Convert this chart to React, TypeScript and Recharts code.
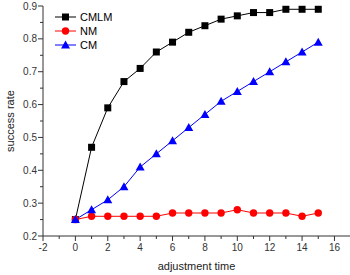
import { LineChart, Line, XAxis, YAxis } from "recharts";

// adjustment time 0..15
const steps = [0, 1, 2, 3, 4, 5, 6, 7, 8, 9, 10, 11, 12, 13, 14, 15];
const cmlm = [0.25, 0.47, 0.59, 0.67, 0.71, 0.76, 0.79, 0.82, 0.84, 0.86, 0.87, 0.88, 0.88, 0.89, 0.89, 0.89];
const nm = [0.25, 0.26, 0.26, 0.26, 0.26, 0.26, 0.27, 0.27, 0.27, 0.27, 0.28, 0.27, 0.27, 0.27, 0.26, 0.27];
const cm = [0.25, 0.28, 0.31, 0.35, 0.41, 0.45, 0.49, 0.53, 0.57, 0.61, 0.64, 0.67, 0.7, 0.73, 0.76, 0.79];

const xTicks = [-2, -1, 0, 1, 2, 3, 4, 5, 6, 7, 8, 9, 10, 11, 12, 13, 14, 15, 16];
const yTicks = [0.2, 0.25, 0.3, 0.35, 0.4, 0.45, 0.5, 0.55, 0.6, 0.65, 0.7, 0.75, 0.8, 0.85, 0.9];

const data = steps.map((t, i) => ({ t, cmlm: cmlm[i], nm: nm[i], cm: cm[i] }));

const FONT = "'Liberation Sans', Arial, sans-serif";
const AXIS = "#333";

const XTick = (props: any) => {
  const { x, y, payload } = props;
  const v = payload.value as number;
  const major = v % 2 === 0;
  return (
    <g>
      <line x1={x} x2={x} y1={y} y2={y + (major ? 5 : 3)} stroke={AXIS} />
      {major && (
        <text x={x} y={y + 15} textAnchor="middle" fontSize={10} fill="#333" fontFamily={FONT}>
          {v}
        </text>
      )}
    </g>
  );
};

const YTick = (props: any) => {
  const { x, y, payload } = props;
  const v = payload.value as number;
  const major = Math.abs(v * 10 - Math.round(v * 10)) < 1e-6;
  return (
    <g>
      <line x1={x} x2={x - (major ? 5 : 3)} y1={y} y2={y} stroke={AXIS} />
      {major && (
        <text x={x - 6} y={y + 3.5} textAnchor="end" fontSize={10} fill="#333" fontFamily={FONT}>
          {v.toFixed(1)}
        </text>
      )}
    </g>
  );
};

const YLabel = (props: any) => {
  const vb = props.viewBox || {};
  const cy = (vb.y ?? 0) + (vb.height ?? 0) / 2;
  return (
    <text x={14} y={cy} transform={`rotate(-90, 14, ${cy})`} textAnchor="middle" fontSize={11} fill="#222" fontFamily={FONT}>
      success rate
    </text>
  );
};

const Square = (props: any) => {
  const { cx, cy } = props;
  if (cx == null || cy == null) return null;
  return <rect x={cx - 3.5} y={cy - 3.5} width={7} height={7} fill="#000" />;
};

const Circle = (props: any) => {
  const { cx, cy } = props;
  if (cx == null || cy == null) return null;
  return <circle cx={cx} cy={cy} r={3.7} fill="#ff0000" />;
};

const Triangle = (props: any) => {
  const { cx, cy } = props;
  if (cx == null || cy == null) return null;
  return <polygon points={`${cx},${cy - 4.5} ${cx + 4.5},${cy + 3.5} ${cx - 4.5},${cy + 3.5}`} fill="#0000ff" />;
};

const legendItems = [
  { name: "CMLM", color: "#000", Marker: Square },
  { name: "NM", color: "#ff0000", Marker: Circle },
  { name: "CM", color: "#0000ff", Marker: Triangle },
];

export default function App() {
  return (
    <div style={{ position: "absolute", left: 0, top: 0, width: 350, height: 275, background: "#fff" }}>
      <LineChart width={350} height={275} data={data} margin={{ top: 6, right: 0, bottom: 0, left: 0 }}>
        <XAxis
          dataKey="t"
          type="number"
          domain={[-2, 16.96]}
          ticks={xTicks}
          interval={0}
          allowDataOverflow
          stroke={AXIS}
          tickLine={false}
          tickSize={0}
          tickMargin={0}
          tick={<XTick />}
          height={39}
          label={{ value: "adjustment time", position: "insideBottom", offset: 5, fontSize: 11, fill: "#222", fontFamily: FONT }}
        />
        <YAxis
          type="number"
          domain={[0.2, 0.9]}
          ticks={yTicks}
          interval={0}
          stroke={AXIS}
          tickLine={false}
          tickSize={0}
          tickMargin={0}
          tick={<YTick />}
          width={43}
          label={<YLabel />}
        />
        <Line dataKey="cmlm" stroke="#000" strokeWidth={1} dot={<Square />} isAnimationActive={false} />
        <Line dataKey="nm" stroke="#ff0000" strokeWidth={1} dot={<Circle />} isAnimationActive={false} />
        <Line dataKey="cm" stroke="#0000ff" strokeWidth={1} dot={<Triangle />} isAnimationActive={false} />
      </LineChart>
      <svg width={120} height={60} style={{ position: "absolute", left: 50, top: 8 }}>
        {legendItems.map(({ name, color, Marker }, i) => {
          const cy = 9 + i * 14;
          return (
            <g key={name}>
              <line x1={5} x2={26} y1={cy} y2={cy} stroke={color} />
              <Marker cx={15.5} cy={cy} />
              <text x={30} y={cy + 4} fontSize={11} fill="#000" fontFamily={FONT}>
                {name}
              </text>
            </g>
          );
        })}
      </svg>
    </div>
  );
}
